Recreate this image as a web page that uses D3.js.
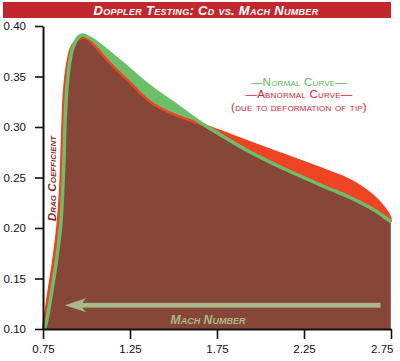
<!DOCTYPE html>
<html>
<head>
<meta charset="utf-8">
<script src="https://cdn.jsdelivr.net/npm/d3@7/dist/d3.min.js"></script>
<style>
  body { margin: 0; background: #fff; }
  svg text { font-family: "Liberation Sans", Arial, sans-serif; }
</style>
</head>
<body>
<svg id="chart"></svg>
<script>
// values (Mach number, drag coefficient)
const normalMach = [0.750, 0.761, 0.800, 0.829, 0.852, 0.863, 0.871, 0.876, 0.886, 0.901, 0.921, 0.953, 0.980,
  1.020, 1.078, 1.233, 1.365, 1.537, 1.641, 1.767, 1.940, 2.083, 2.227, 2.371, 2.514, 2.658, 2.750];
const normalCd = [0.100, 0.102, 0.137, 0.170, 0.203, 0.236, 0.269, 0.302, 0.335, 0.361, 0.378, 0.389, 0.391,
  0.388, 0.381, 0.359, 0.340, 0.319, 0.306, 0.2926, 0.2752, 0.2629, 0.2515, 0.2406, 0.2302, 0.2173, 0.206];

const abnormalMach = [0.750, 0.782, 0.811, 0.834, 0.848, 0.856, 0.862, 0.871, 0.888, 0.911, 0.945, 0.997,
  1.049, 1.095, 1.164, 1.233, 1.307, 1.365, 1.422, 1.537, 1.641, 1.767, 1.940, 2.129, 2.325, 2.474, 2.572,
  2.641, 2.698, 2.739, 2.750];
const abnormalCd = [0.100, 0.137, 0.170, 0.203, 0.236, 0.269, 0.302, 0.335, 0.361, 0.378, 0.386, 0.388,
  0.380, 0.371, 0.358, 0.347, 0.334, 0.325, 0.319, 0.310, 0.304, 0.296, 0.2847, 0.2728, 0.2604, 0.2505, 0.2416,
  0.2327, 0.2228, 0.2129, 0.206];

const xTicks = [0.75, 1.25, 1.75, 2.25, 2.75];
const yTicks = [0.10, 0.15, 0.20, 0.25, 0.30, 0.35, 0.40];

const titleText = "Doppler Testing: Cd vs. Mach Number";
const legendLines = ["—Normal Curve—", "—Abnormal Curve—", "(due to deformation of tip)"];

function main() {
    const W = 400, H = 361;
    const svg = d3.select("svg#chart").attr("width", W).attr("height", H);

    const x = d3.scaleLinear().domain([0.75, 2.75]).range([43, 391]);
    const y = d3.scaleLinear().domain([0.10, 0.40]).range([329, 26]);

    const normal = normalMach.map((m, i) => ({m: m, cd: normalCd[i]}));
    const abnormal = abnormalMach.map((m, i) => ({m: m, cd: abnormalCd[i]}));

    const area = d3.area()
        .x(d => x(d.m))
        .y0(y(0.10))
        .y1(d => y(d.cd))
        .curve(d3.curveCatmullRom.alpha(0.5));
    const line = d3.line()
        .x(d => x(d.m))
        .y(d => y(d.cd))
        .curve(d3.curveCatmullRom.alpha(0.5));

    // title bar
    svg.append("rect")
        .attr("x", 3).attr("y", 2).attr("width", 388).attr("height", 16)
        .attr("fill", "#c1272d");
    svg.append("text").text(titleText)
        .attr("x", 206).attr("y", 15)
        .attr("text-anchor", "middle")
        .attr("fill", "#fff")
        .attr("font-size", 13)
        .attr("letter-spacing", 0.3)
        .attr("font-weight", "bold")
        .attr("font-style", "italic")
        .style("font-variant", "small-caps");

    // areas: red under abnormal, green under normal, brown where both overlap
    svg.append("defs").append("clipPath").attr("id", "underNormal")
        .append("path").attr("d", area(normal));

    svg.append("path").attr("d", area(abnormal)).attr("fill", "#ef4423");
    svg.append("path").attr("d", area(normal)).attr("fill", "#6bbf68");
    svg.append("path").attr("d", area(abnormal))
        .attr("clip-path", "url(#underNormal)")
        .attr("fill", "#874738");
    svg.append("line")
        .attr("x1", x(2.75) - 0.5).attr("x2", x(2.75) - 0.5)
        .attr("y1", y(0.206)).attr("y2", y(0.10))
        .attr("stroke", "#a86a58").attr("stroke-width", 1);

    svg.append("path").attr("d", line(abnormal))
        .attr("fill", "none").attr("stroke", "#ef4423").attr("stroke-width", 2.5);
    svg.append("path").attr("d", line(normal))
        .attr("fill", "none").attr("stroke", "#6bbf68").attr("stroke-width", 3.5);

    // arrow along the bottom
    const ay = y(0.1235);
    const tip = x(0.875), back = x(1.0);
    svg.append("rect")
        .attr("x", back - 8).attr("y", ay - 2.4)
        .attr("width", x(2.69) - back + 8).attr("height", 4.8)
        .attr("fill", "#a9b98a");
    svg.append("path")
        .attr("d", `M${tip},${ay} L${back},${ay - 7} Q${back - 9},${ay} ${back},${ay + 7} Z`)
        .attr("fill", "#a9b98a");

    svg.append("text").text("Mach Number")
        .attr("x", 208).attr("y", 323.5)
        .attr("text-anchor", "middle")
        .attr("fill", "#a9b98a")
        .attr("font-size", 12.2)
        .attr("font-weight", "bold")
        .attr("font-style", "italic")
        .style("font-variant", "small-caps");

    // axes
    const yAxis = svg.append("g")
        .attr("transform", `translate(${x(0.75)},0)`)
        .call(d3.axisLeft(y).tickValues(yTicks).tickFormat(d3.format(".2f"))
            .tickSize(8).tickSizeOuter(0).tickPadding(9));
    const xAxis = svg.append("g")
        .attr("transform", `translate(0,${y(0.10)})`)
        .call(d3.axisBottom(x).tickValues(xTicks).tickFormat(d3.format(".2f"))
            .tickSize(10).tickSizeOuter(0).tickPadding(6));
    [yAxis, xAxis].forEach(g => {
        g.select(".domain").attr("stroke", "#111").attr("stroke-width", 2);
        g.selectAll(".tick line").attr("stroke", "#111").attr("stroke-width", 1.6);
        g.selectAll(".tick text")
            .attr("fill", "#111")
            .attr("font-size", 11.5)
            .attr("font-family", "Liberation Sans, Arial, sans-serif");
    });
    // last x label sits left of its tick, inside the frame
    xAxis.selectAll(".tick text").filter(d => d === 2.75)
        .attr("text-anchor", "end").attr("x", 2);

    // y title
    svg.append("text").text("Drag Coefficient")
        .attr("transform", "translate(55.5,178.5) rotate(-90)")
        .attr("text-anchor", "middle")
        .attr("fill", "#8c2a20")
        .attr("font-size", 11.7)
        .attr("font-weight", "bold")
        .attr("font-style", "italic")
        .style("font-variant", "small-caps");

    // legend
    const legendColors = ["#5bb85a", "#d4262e", "#d4262e"];
    const legendY = [85.5, 98, 110.5];
    legendLines.forEach((t, i) => {
        svg.append("text").text(t)
            .attr("x", 299).attr("y", legendY[i])
            .attr("text-anchor", "middle")
            .attr("fill", legendColors[i])
            .attr("font-size", 11.5)
            .attr("letter-spacing", 0.2)
            .style("font-variant", "small-caps");
    });
}

main()
</script>
</body>
</html>
